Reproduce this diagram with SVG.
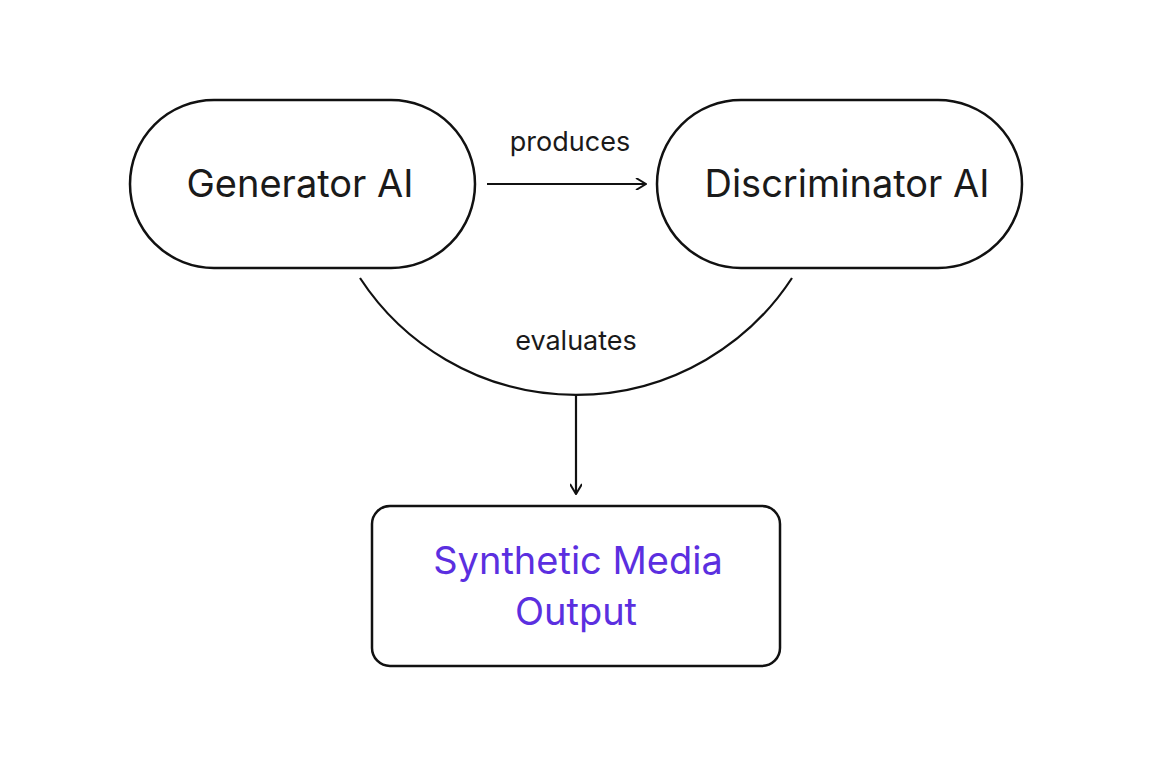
<svg xmlns="http://www.w3.org/2000/svg" width="1152" height="768" viewBox="0 0 1152 768">
<style>
.n{fill:#fff;stroke:#111;stroke-width:2.5}
.t{font-family:Inter,"Liberation Sans",sans-serif;fill:#1a1a1a;text-anchor:middle}
.c{fill:none;stroke:#111;stroke-width:2.2}
</style>
<defs><marker id="a" viewBox="0 0 12 12" refX="11" refY="6" markerWidth="12" markerHeight="12" markerUnits="userSpaceOnUse" orient="auto"><path d="M1 0L11 6L1 12" fill="none" stroke="#111" stroke-width="2"/></marker></defs>
<rect width="1152" height="768" fill="#fff"/>
<g id="connectors">
<path class="c" d="M487 184H646" marker-end="url(#a)"/>
<path class="c" d="M360 278A258 258 0 0 0 792 278"/>
<path class="c" d="M576 396V494" marker-end="url(#a)"/>
<text class="t" x="570" y="151" font-size="27">produces</text>
<text class="t" x="576" y="350" font-size="27">evaluates</text>
</g>
<g id="generator"><rect class="n" x="130" y="100" width="345" height="168" rx="84"/><text class="t" x="300" y="197" font-size="38">Generator AI</text></g>
<g id="discriminator"><rect class="n" x="657" y="100" width="365" height="168" rx="84"/><text class="t" x="847" y="197" font-size="38">Discriminator AI</text></g>
<g id="output"><rect class="n" x="372" y="506" width="408" height="160" rx="18"/><text class="t" x="578" y="574" font-size="38" style="fill:#5b2fe0">Synthetic Media</text><text class="t" x="576" y="625" font-size="38" style="fill:#5b2fe0">Output</text></g>
</svg>
